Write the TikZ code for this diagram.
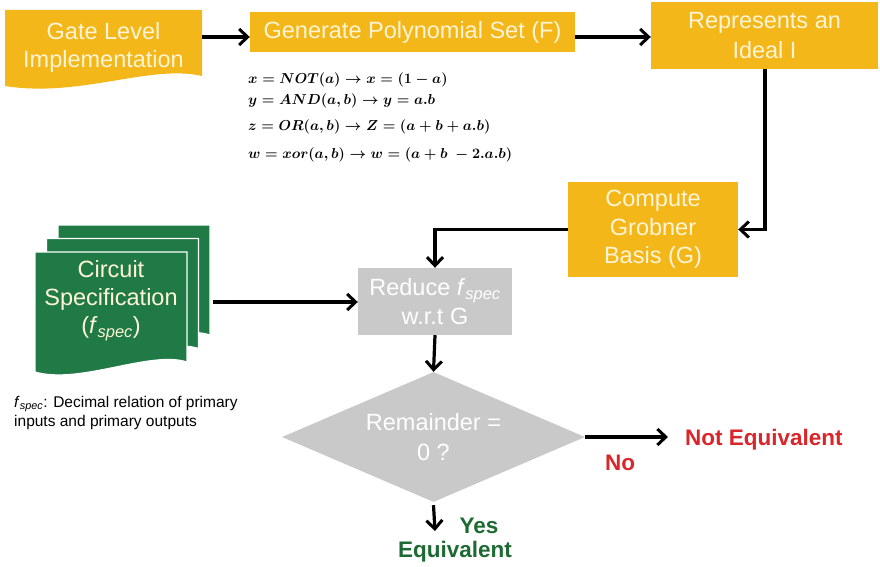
\documentclass[tikz,border=0pt]{standalone}
\usepackage{fontspec}
\setmainfont{Liberation Sans}
\usetikzlibrary{arrows.meta,shapes.geometric,calc}
\definecolor{gold}{HTML}{F3B719}
\definecolor{cream}{HTML}{FFF4D6}
\definecolor{specgreen}{HTML}{1F7A45}
\definecolor{boxgray}{HTML}{C9C9C9}
\definecolor{nored}{HTML}{D8262B}
\definecolor{yesgreen}{HTML}{1D6A32}
\tikzset{
  flow/.style={line width=3.2pt,-{Straight Barb[length=8.5pt,width=16pt,line width=3pt]}},
  bigtext/.style={font=\fontsize{23.5}{29}\selectfont},
  goldbox/.style={fill=gold,draw=none,text=cream,align=center,inner sep=0pt,bigtext},
  graybox/.style={fill=boxgray,draw=none,text=white,align=center,inner sep=0pt,bigtext},
  anchorbox/.style={draw=none,fill=none,inner sep=0pt},
  page/.style={fill=specgreen,draw=white,line width=1.2pt},
  eqn/.style={anchor=west,inner sep=0pt,font=\fontsize{14.5}{16}\selectfont},
  outcome/.style={inner sep=0pt,font=\bfseries\fontsize{22.5}{26}\selectfont},
}
\begin{document}
\begin{tikzpicture}[x=1pt,y=-1pt]
\useasboundingbox (0,0) rectangle (880,567);

% Gate level implementation (document shape)
\fill[gold] (5,10) -- (202,10) -- (202,76)
  .. controls (150,64) and (80,98) .. (5,86) -- cycle;
\node[anchorbox,minimum width=197pt,minimum height=66pt,text=cream,align=center,
  font=\fontsize{23.5}{28}\selectfont] (gate) at (103.5,47) {Gate Level\\Implementation};

% Polynomial set
\node[goldbox,minimum width=325pt,minimum height=40pt] (poly) at (412.5,32)
  {Generate Polynomial Set (F)};

% Ideal
\node[goldbox,minimum width=227pt,minimum height=67pt,font=\fontsize{23.5}{30}\selectfont]
  (ideal) at (764.5,35.5) {\raisebox{-3pt}{Represents an}\\\raisebox{-3pt}{Ideal I}};

% Groebner basis
\node[goldbox,minimum width=170pt,minimum height=95pt,font=\fontsize{23.5}{28.5}\selectfont]
  (grob) at (653,229.5) {Compute\\Grobner\\Basis (G)};

% Reduce
\node[graybox,minimum width=154pt,minimum height=67pt] (reduce) at (435,301.5)
  {Reduce \textit{f}\textsubscript{\textit{spec}}\\w.r.t G};

% Decision
\node[diamond,fill=boxgray,text=white,inner sep=0pt,aspect=2.33,
  minimum width=303pt,minimum height=130pt,align=center,
  font=\fontsize{23.5}{30}\selectfont] (rem) at (433.5,437) {Remainder =\\0 ?};

% Stack of specification pages
\foreach \dx/\dy in {23/-27,11.5/-13.5} {
  \filldraw[page] (35+\dx,252+\dy) -- (187+\dx,252+\dy) -- (187+\dx,362+\dy)
    .. controls (150+\dx,350+\dy) and (80+\dx,385+\dy) .. (35+\dx,372+\dy) -- cycle;
}
\filldraw[page] (35,252) -- (187,252) -- (187,362)
  .. controls (150,350) and (80,385) .. (35,372) -- cycle;
\node[anchorbox,text=cream,align=center,font=\fontsize{23.5}{28}\selectfont]
  (spectext) at (111,301) {Circuit\\Specification\\(\textit{f}\textsubscript{\textit{spec}})};
\coordinate (stackout) at (213,302);

% Polynomial equations
\begin{scope}[every node/.style={eqn}]
\boldmath
\node (e1) at (248,80) {$x = NOT(a) \rightarrow x = (1-a)$};
\node (e2) at (248,101) {$y = AND(a,b) \rightarrow y = a.b$};
\node (e3) at (248,127) {$z = OR(a,b) \rightarrow Z = (a+b+a.b)$};
\node (e4) at (248,155) {$w = xor(a,b) \rightarrow w = (a+b\ -2.a.b)$};
\end{scope}

% Note on f_spec
\node[anchor=north west,inner sep=0pt,align=left,font=\fontsize{15.5}{19}\selectfont]
  (note) at (14,396) {\textit{f}\textsubscript{\textit{spec}}: Decimal relation of primary\\inputs and primary outputs};

% Outcomes
\coordinate (noend) at (668,437);
\node[outcome,anchor=west,text=nored] (noteq) at (685,440) {Not Equivalent};
\node[outcome,text=nored] (no) at (620,463) {No};
\coordinate (yesend) at (435,531);
\node[outcome,text=yesgreen] (yes) at (479,526) {Yes};
\node[outcome,text=yesgreen] (equiv) at (455,552) {Equivalent};

% Connectors
\draw[flow] (gate.east |- 0,37) -- (poly.west |- 0,37);
\draw[flow] (poly.east |- 0,37) -- (ideal.west |- 0,37);
\draw[flow] (ideal.south -| 765,0) |- (grob.east);
\draw[flow] (grob.west) -| (reduce.north);
\draw[flow] (stackout) -- (reduce.west |- stackout);
\draw[flow] (reduce.south) -- (rem.north);
\draw[flow] (rem.east) -- (noend);
\draw[flow] (rem.south) ++(0,3) -- (yesend);
\end{tikzpicture}
\end{document}
